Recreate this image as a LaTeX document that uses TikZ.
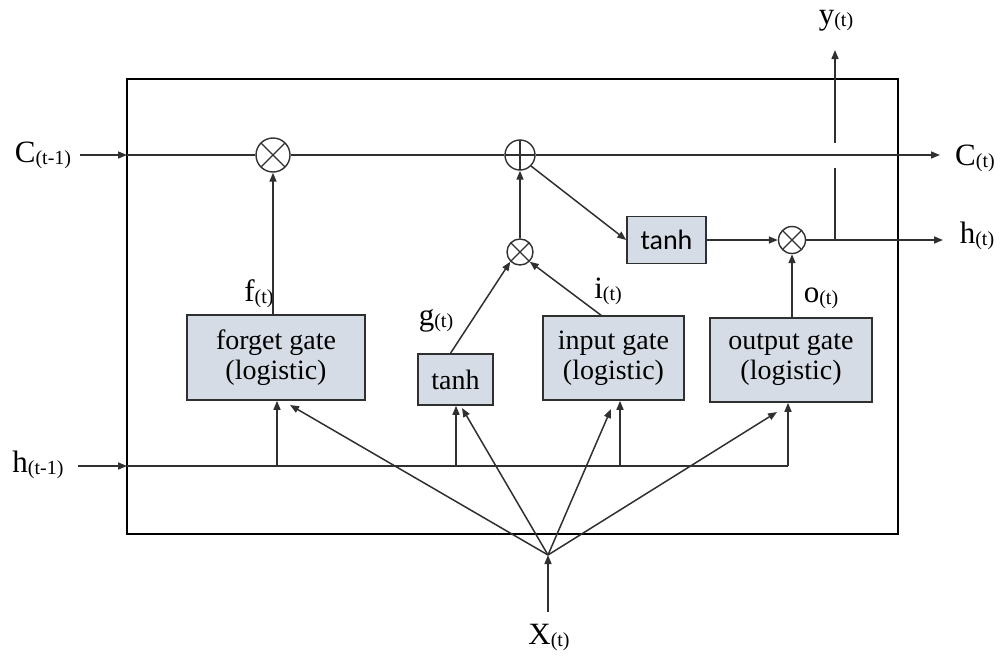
\documentclass[tikz,border=0pt]{standalone}
\usepackage{fontspec}
\setmainfont{Liberation Serif}
\newfontfamily\calfont{Carlito}
\usetikzlibrary{arrows.meta,calc}
\definecolor{gatefill}{HTML}{D6DCE5}
\definecolor{linecol}{HTML}{303030}
\newcommand\lbl[2]{{\fontsize{31}{31}\selectfont #1}{\fontsize{20}{20}\selectfont\raisebox{-2pt}{#2}}}
\begin{document}
\begin{tikzpicture}[x=1pt,y=-1pt,
  wire/.style={draw=linecol,line width=1.5pt},
  arr/.style={wire,-{Triangle[length=9pt,width=7pt]}},
  gatebox/.style={draw=linecol,fill=gatefill,line width=1.6pt,align=center,inner sep=0pt,
     font=\fontsize{28}{30}\selectfont},
  mulop/.style={circle,draw=linecol,fill=white,line width=1.4pt,inner sep=0pt,
     path picture={\draw[linecol,line width=1.2pt]
       (path picture bounding box.north west)--(path picture bounding box.south east)
       (path picture bounding box.north east)--(path picture bounding box.south west);}},
  addop/.style={circle,draw=linecol,fill=white,line width=1.4pt,inner sep=0pt,
     path picture={\draw[linecol,line width=1.4pt]
       (path picture bounding box.north)--(path picture bounding box.south)
       (path picture bounding box.west)--(path picture bounding box.east);}},
  txt/.style={inner sep=0pt}
]
\useasboundingbox (0,0) rectangle (1000,664);
% outer cell
\node[draw=black,line width=1.6pt,minimum width=771pt,minimum height=455pt,inner sep=0pt] (cell) at (512.5,306.5) {};

% gates
\node[gatebox,minimum width=178pt,minimum height=85pt] (forget) at (276,357.5) {forget gate\\(logistic)};
\node[gatebox,minimum width=141pt,minimum height=84pt] (input) at (613.5,358) {input gate\\(logistic)};
\node[gatebox,minimum width=162pt,minimum height=84pt] (output) at (791,360) {output gate\\(logistic)};
\node[gatebox,minimum width=75pt,minimum height=51pt] (tanhg) at (455.5,379.5) {tanh};
\node[gatebox,minimum width=79pt,minimum height=47pt,font=\calfont\fontsize{28}{30}\selectfont] (tanhc) at (666.5,240) {tanh};

% operators
\node[mulop,minimum size=34pt] (fmul) at (273,155) {};
\node[addop,minimum size=30pt] (plus) at (520,155) {};
\node[mulop,minimum size=26pt] (imul) at (520,252) {};
\node[mulop,minimum size=27pt] (omul) at (792,240) {};

% labels
\node[txt] (cin) at (43,155) {\lbl{C}{(t-1)}};
\node[txt] (hin) at (38,465) {\lbl{h}{(t-1)}};
\node[txt] (cout) at (975,158) {\lbl{C}{(t)}};
\node[txt] (hout) at (977,236) {\lbl{h}{(t)}};
\node[txt] (yout) at (836,21) {\lbl{y}{(t)}};
\node[txt] (xin) at (549,637) {\lbl{X}{(t)}};
\node[txt] (flab) at (259,294) {\lbl{f}{(t)}};
\node[txt] (glab) at (436,321) {\lbl{g}{(t)}};
\node[txt] (ilab) at (608,291) {\lbl{i}{(t)}};
\node[txt] (olab) at (821,298) {\lbl{o}{(t)}};

% coordinates
\coordinate (cinS) at (80,155);
\coordinate (cinE) at (127,155);
\coordinate (coutE) at (940,155);
\coordinate (hinS) at (78,466);
\coordinate (hinE) at (127,466);
\coordinate (hEnd) at (788,466);
\coordinate (houtE) at (943,240);
\coordinate (ybase) at (835,240);
\coordinate (ygapA) at (835,168);
\coordinate (ygapB) at (835,143);
\coordinate (ytop) at (835,50);
\coordinate (xS) at (548,612);
\coordinate (xhub) at (548,555);
\coordinate (b1) at (277,466);
\coordinate (b2) at (456,466);
\coordinate (b3) at (620,466);
\coordinate (b4) at (788,466);
\coordinate (e1) at (290,405);
\coordinate (e2) at (462,408);
\coordinate (e3) at (611,409);
\coordinate (e4) at (777,412);
\coordinate (gtop) at (450,354);
\coordinate (itop) at (602,316);

% cell state line
\draw[arr] (cinS) -- (cinE);
\draw[wire] (cinE) -- (fmul.west);
\draw[wire] (fmul.east) -- (plus.west);
\draw[arr] (plus.east) -- (coutE);

% hidden input line
\draw[arr] (hinS) -- (hinE);
\draw[wire] (hinE) -- (hEnd);
\draw[arr] (b1) -- (b1 |- forget.south);
\draw[arr] (b2) -- (b2 |- tanhg.south);
\draw[arr] (b3) -- (b3 |- input.south);
\draw[arr] (b4) -- (b4 |- output.south);

% x input
\draw[arr] (xS) -- (xhub);
\draw[arr] (xhub) -- (e1);
\draw[arr] (xhub) -- (e2);
\draw[arr] (xhub) -- (e3);
\draw[arr] (xhub) -- (e4);

% gate outputs
\draw[arr] (forget.north -| fmul.south) -- (fmul.south);
\draw[arr] (gtop) -- (imul.south west);
\draw[arr] (itop) -- (imul.south east);
\draw[arr] (imul.north) -- (plus.south);
\draw[arr] (plus.south east) -- (tanhc.west);
\draw[arr] (tanhc.east) -- (omul.west);
\draw[arr] (output.north -| omul.south) -- (omul.south);

% outputs
\draw[arr] (omul.east) -- (houtE);
\draw[wire] (ybase) -- (ygapA);
\draw[arr] (ygapB) -- (ytop);
\end{tikzpicture}
\end{document}
